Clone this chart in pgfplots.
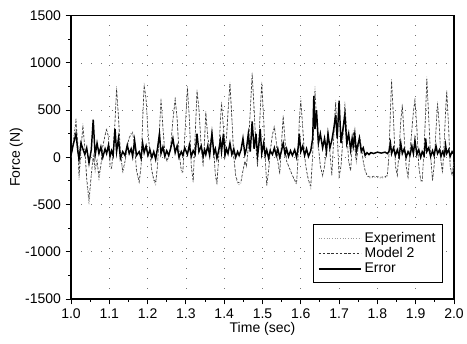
\documentclass[border=0pt]{standalone}
\usepackage{fontspec}
\setmainfont{Liberation Sans}
\usepackage{pgfplots}
\usepackage{pgfplotstable}
\pgfplotsset{compat=1.18}

\pgfplotstableread{
t exp mod err
1.000 0 10 20
1.005 150 120 120
1.013 415 380 250
1.018 100 140 60
1.021 -240 -200 -20
1.026 50 80 150
1.031 360 330 90
1.036 80 110 30
1.041 -250 -220 100
1.047 -500 -440 -60
1.053 -200 -180 80
1.058 0 20 400
1.063 -150 -120 20
1.068 -50 -30 150
1.073 -250 -200 40
1.078 -100 -80 110
1.083 100 120 0
1.089 250 230 90
1.093 310 290 40
1.098 200 220 130
1.102 -100 -80 10
1.106 -130 -110 70
1.110 50 80 20
1.115 400 380 300
1.119 755 720 60
1.124 400 430 200
1.129 50 60 -10
1.135 -170 -150 60
1.141 -60 -40 20
1.147 100 120 130
1.152 200 210 40
1.157 260 240 90
1.161 270 260 10
1.166 100 120 180
1.171 -150 -130 20
1.178 -275 -260 60
1.183 -100 -90 -10
1.187 400 380 150
1.191 790 760 50
1.196 600 620 120
1.201 250 270 20
1.206 50 60 80
1.211 -150 -140 0
1.216 -250 -230 60
1.221 -290 -270 -20
1.226 -100 -80 100
1.231 300 280 250
1.235 630 610 40
1.240 300 320 110
1.245 50 60 10
1.250 -50 -40 70
1.255 0 10 20
1.260 100 110 90
1.266 400 390 200
1.272 640 610 50
1.277 400 420 120
1.282 50 60 0
1.288 -150 -140 60
1.292 -170 -150 20
1.297 200 220 100
1.304 755 730 30
1.309 400 420 130
1.314 -100 -90 10
1.319 -270 -250 70
1.324 200 210 30
1.329 720 700 250
1.334 500 520 60
1.340 100 110 120
1.345 -100 -90 10
1.349 200 210 80
1.352 490 470 30
1.357 200 220 120
1.362 80 90 20
1.368 290 270 250
1.373 50 60 40
1.377 -200 -190 90
1.381 -290 -270 -10
1.386 0 20 80
1.390 400 380 180
1.393 590 570 60
1.398 300 320 250
1.402 100 110 20
1.406 200 210 90
1.410 500 480 40
1.415 800 780 150
1.420 400 420 30
1.425 0 10 90
1.430 -200 -190 0
1.435 -280 -260 60
1.439 -290 -270 20
1.444 -270 -250 80
1.449 -150 -140 200
1.454 -50 -40 30
1.458 -100 -90 90
1.463 100 110 250
1.468 500 480 60
1.473 905 880 380
1.478 500 520 90
1.483 100 110 250
1.487 -100 -90 20
1.490 100 110 110
1.494 500 480 300
1.498 800 780 40
1.503 400 420 150
1.507 0 10 20
1.511 -310 -290 80
1.516 -150 -140 -10
1.520 50 60 70
1.526 250 240 30
1.531 340 320 100
1.536 150 170 20
1.540 -50 -40 90
1.545 -180 -170 0
1.549 100 110 60
1.554 450 430 150
1.559 150 170 30
1.563 -50 -40 90
1.568 -100 -90 10
1.573 -150 -140 70
1.578 -200 -190 20
1.584 -250 -240 80
1.589 -290 -270 0
1.593 0 10 100
1.596 400 380 250
1.600 625 600 60
1.605 300 320 120
1.610 0 10 20
1.615 -150 -140 90
1.620 -250 -240 10
1.626 -325 -300 70
1.631 0 20 200
1.634 400 380 650
1.637 750 700 300
1.641 400 420 500
1.646 100 120 150
1.651 -100 -90 250
1.657 -200 -190 100
1.662 -100 -90 200
1.667 100 110 60
1.671 270 250 250
1.676 50 60 100
1.681 -200 -190 180
1.686 200 210 300
1.691 607 580 450
1.695 250 270 200
1.700 -220 -200 600
1.705 -100 -90 150
1.710 200 210 300
1.715 590 560 450
1.720 250 270 150
1.725 -50 -40 250
1.730 -150 -140 80
1.734 100 110 200
1.737 285 270 120
1.741 100 110 250
1.745 -50 -40 60
1.750 100 110 150
1.753 250 240 200
1.758 100 110 60
1.763 -50 -40 100
1.768 -150 -140 20
1.773 -200 -190 50
1.778 -215 -205 30
1.783 -220 -210 50
1.790 -210 -200 40
1.800 -215 -205 55
1.810 -220 -210 45
1.820 -215 -205 55
1.826 -200 -190 40
1.830 0 10 60
1.834 500 480 150
1.837 835 810 40
1.842 400 420 100
1.847 -100 -90 20
1.852 -200 -190 80
1.857 100 110 10
1.861 400 380 150
1.865 570 550 40
1.870 200 220 90
1.875 -100 -90 0
1.880 -220 -210 60
1.885 50 60 20
1.890 300 290 120
1.894 500 480 40
1.898 625 600 180
1.903 300 320 30
1.908 -100 -90 80
1.913 -250 -240 0
1.917 -260 -250 60
1.922 100 110 20
1.926 500 480 200
1.929 855 830 60
1.934 400 420 100
1.939 0 10 10
1.944 -250 -240 70
1.948 -100 -90 20
1.953 300 290 120
1.957 590 570 40
1.962 300 320 80
1.966 -50 -40 10
1.970 -170 -160 60
1.975 200 210 20
1.978 500 480 130
1.981 713 690 40
1.986 300 320 80
1.990 -100 -90 10
1.995 -200 -190 60
2.000 -50 -40 30
}\data

\begin{document}
\begin{tikzpicture}
\path[use as bounding box] (-53.25pt,-33pt) rectangle (297pt,224.25pt);
\begin{axis}[
  at={(0pt,0pt)}, anchor=south west, scale only axis,
  width=287.25pt, height=212.5pt,
  xmin=1, xmax=2, ymin=-1500, ymax=1500,
  xtick={1.0,1.1,1.2,1.3,1.4,1.5,1.6,1.7,1.8,1.9,2.0},
  ytick={-1500,-1000,-500,0,500,1000,1500},
  minor x tick num=1, minor y tick num=1,
  tick align=outside, tick pos=left,
  major tick length=4pt, minor tick length=2.2pt,
  tick style={black, line width=0.7pt},
  axis line style={line width=0.8pt},
  xticklabel style={/pgf/number format/.cd, fixed, fixed zerofill, precision=1},
  yticklabel style={/pgf/number format/.cd, 1000 sep={}},
  /pgf/number format/assume math mode=true,
  font=\fontsize{10.5}{12}\selectfont,
  xlabel={Time (sec)}, ylabel={Force (N)},
  xlabel style={yshift=4pt},
  ylabel style={yshift=-5pt},
  grid=major,
  major grid style={black!55, line width=0.5pt, dash pattern=on 0.6pt off 7pt},
  legend style={at={(0.97,0.056)}, anchor=south east, draw=black, line width=0.6pt,
    font=\fontsize{10.5}{11}\selectfont, cells={anchor=west}, row sep=-1.5pt,
    inner xsep=3pt, inner ysep=4pt},
  legend image code/.code={\draw[#1] (0pt,0pt) -- (32pt,0pt);},
]
\addplot[gray!80, line width=0.5pt, dash pattern=on 0.8pt off 1.2pt] table[x=t,y=exp] {\data};
\addlegendentry{Experiment}
\addplot[black!80, line width=0.45pt, dash pattern=on 1.8pt off 1.4pt] table[x=t,y=mod] {\data};
\addlegendentry{Model 2}
\addplot[black, line width=1.1pt] table[x=t,y=err] {\data};
\addlegendentry{Error}
\end{axis}
\end{tikzpicture}
\end{document}
